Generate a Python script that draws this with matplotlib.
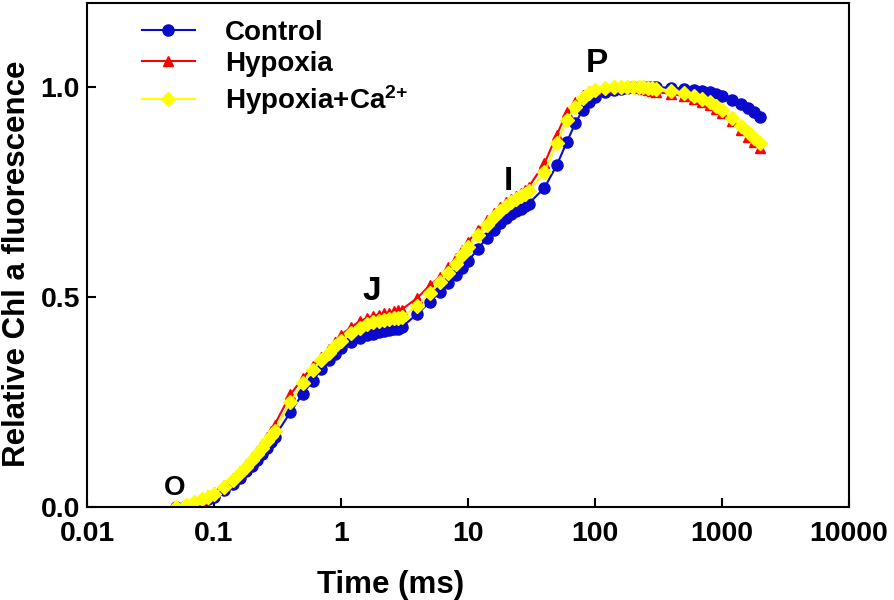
import matplotlib
matplotlib.use('Agg')
import matplotlib.pyplot as plt

plt.rcParams['font.family'] = ['Liberation Sans', 'DejaVu Sans']
plt.rcParams['font.weight'] = 'bold'
plt.rcParams['mathtext.fontset'] = 'custom'
plt.rcParams['mathtext.rm'] = 'Liberation Sans:bold'
plt.rcParams['mathtext.bf'] = 'Liberation Sans:bold'
plt.rcParams['mathtext.default'] = 'bf'

# Tiempos de medida (ms)
tiempo = [0.05, 0.06, 0.07, 0.08, 0.09, 0.10, 0.12, 0.14, 0.16, 0.18, 0.20, 0.22, 0.24, 0.26, 0.28, 0.30,
          0.4, 0.5, 0.6, 0.7, 0.8, 0.9, 1.0, 1.2, 1.4, 1.6, 1.8, 2.0, 2.2, 2.4, 2.6, 2.8, 3.0,
          4, 5, 6, 7, 8, 9, 10, 12, 14, 16, 18, 20, 22, 24, 26, 28, 30,
          40, 50, 60, 70, 80, 90, 100, 120, 140, 160, 180, 200, 220, 240, 260, 280, 300,
          400, 500, 600, 700, 800, 900, 1000, 1200, 1400, 1600, 1800, 2000]

control = [0.000, 0.003, 0.007, 0.012, 0.018, 0.025, 0.040, 0.055, 0.070, 0.085, 0.098, 0.112, 0.126, 0.140, 0.154, 0.167,
           0.226, 0.270, 0.300, 0.328, 0.350, 0.365, 0.378, 0.392, 0.402, 0.409, 0.413, 0.416, 0.419, 0.421, 0.423, 0.425, 0.428,
           0.460, 0.488, 0.512, 0.533, 0.552, 0.569, 0.585, 0.615, 0.640, 0.660, 0.676, 0.688, 0.697, 0.704, 0.710, 0.716, 0.722,
           0.760, 0.814, 0.869, 0.914, 0.945, 0.964, 0.976, 0.987, 0.993, 0.996, 0.998, 0.999, 1.000, 1.000, 1.000, 1.000, 1.000,
           0.998, 0.996, 0.994, 0.991, 0.988, 0.983, 0.978, 0.968, 0.959, 0.950, 0.940, 0.929]

hipoxia = [0.000, 0.006, 0.013, 0.020, 0.028, 0.036, 0.052, 0.068, 0.085, 0.102, 0.118, 0.134, 0.150, 0.166, 0.182, 0.196,
           0.268, 0.307, 0.335, 0.358, 0.376, 0.394, 0.410, 0.428, 0.442, 0.450, 0.455, 0.458, 0.461, 0.463, 0.466, 0.468, 0.470,
           0.498, 0.528, 0.548, 0.571, 0.592, 0.612, 0.632, 0.660, 0.683, 0.700, 0.714, 0.726, 0.734, 0.741, 0.748, 0.755, 0.762,
           0.818, 0.886, 0.940, 0.965, 0.980, 0.990, 0.995, 0.999, 1.000, 1.000, 1.000, 0.999, 0.998, 0.996, 0.994, 0.991, 0.988,
           0.984, 0.978, 0.972, 0.964, 0.957, 0.948, 0.938, 0.918, 0.898, 0.882, 0.868, 0.855]

hipoxia_ca = [0.000, 0.005, 0.011, 0.018, 0.025, 0.032, 0.048, 0.064, 0.080, 0.096, 0.111, 0.126, 0.141, 0.156, 0.170, 0.182,
              0.250, 0.295, 0.326, 0.350, 0.367, 0.383, 0.396, 0.414, 0.427, 0.435, 0.440, 0.443, 0.445, 0.447, 0.449, 0.451, 0.453,
              0.479, 0.510, 0.536, 0.557, 0.578, 0.600, 0.620, 0.648, 0.672, 0.690, 0.705, 0.717, 0.726, 0.733, 0.740, 0.746, 0.752,
              0.797, 0.867, 0.922, 0.952, 0.974, 0.985, 0.992, 0.997, 1.000, 1.000, 1.000, 1.000, 0.999, 0.999, 0.998, 0.997, 0.996,
              0.990, 0.985, 0.978, 0.971, 0.964, 0.955, 0.946, 0.927, 0.908, 0.892, 0.879, 0.866]

# Puntos O, J, I, P
fases = ['O', 'J', 'I', 'P']
fases_t = [0.049, 1.75, 20.7, 104]
fases_y = [0.045, 0.514, 0.774, 1.057]
fases_size = [20, 24, 24, 24]

x_ticks = [0.01, 0.1, 1, 10, 100, 1000, 10000]
x_labels = ['0.01', '0.1', '1', '10', '100', '1000', '10000']
y_ticks = [0.0, 0.5, 1.0]

fig = plt.figure(figsize=(8.94, 6), dpi=100)
ax = fig.add_axes([0.0973, 0.155, 0.8524, 0.84])

ax.plot(tiempo, control, color='#0a0acd', marker='o', markersize=8, linewidth=1.5, label='Control')
ax.plot(tiempo, hipoxia, color='#ff0000', marker='^', markersize=7, linewidth=1.5, label='Hypoxia')
ax.plot(tiempo, hipoxia_ca, color='#ffff00', marker='D', markersize=7, linewidth=1.5, label='Hypoxia+Ca$^{2{+}}$')

for f, t, v, s in zip(fases, fases_t, fases_y, fases_size):
    ax.text(t, v, f, fontsize=s, fontweight='bold', ha='center', va='center')

ax.set_xscale('log')
ax.set_xlim(0.01, 10000)
ax.set_ylim(0, 1.2)
ax.set_xticks(x_ticks)
ax.set_xticklabels(x_labels)
ax.minorticks_off()
ax.set_yticks(y_ticks)
ax.set_yticklabels(['0.0', '0.5', '1.0'])

for s in ax.spines.values():
    s.set_linewidth(1.5)
ax.tick_params(axis='both', direction='in', length=6.5, width=1.5, labelsize=20.5)
ax.tick_params(axis='x', pad=10)
ax.tick_params(axis='y', pad=5)

ax.set_xlabel('Time (ms)', fontsize=22.5, fontweight='bold')
ax.set_ylabel('Relative Chl a fluorescence', fontsize=22.5, fontweight='bold')
ax.xaxis.set_label_coords(0.399, -0.125)
ax.yaxis.set_label_coords(-0.072, 0.482)

ax.legend(loc='upper left', bbox_to_anchor=(0.05, 1.0), frameon=False, fontsize=20,
          handlelength=1.9, handletextpad=1.1, labelspacing=0.2, borderaxespad=0.2)

plt.savefig('out.png', dpi=100)
